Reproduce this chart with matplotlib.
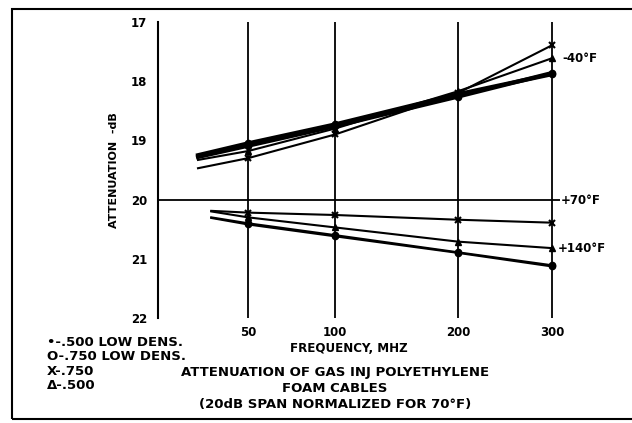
import numpy as np
import matplotlib
matplotlib.use("Agg")
import matplotlib.pyplot as plt
from matplotlib.patches import Rectangle

plt.rcParams['font.family'] = ['DejaVu Sans']
plt.rcParams['font.weight'] = 'bold'

# frequencies (MHz), first point is where each line starts (no marker)
freq_cold = [29, 50, 100, 200, 300]
freq_hot = [34, 50, 100, 200, 300]
freq_ticks = [50, 100, 200, 300]

# -40 F group (attenuation, dB)
cold_dot = [19.25, 19.05, 18.73, 18.22, 17.88]
cold_o = [19.28, 19.09, 18.76, 18.26, 17.86]
cold_tri = [19.33, 19.18, 18.80, 18.17, 17.61]
cold_x = [19.47, 19.30, 18.90, 18.20, 17.39]

# +140 F group
hot_x = [20.19, 20.22, 20.26, 20.34, 20.39]
hot_tri = [20.20, 20.30, 20.47, 20.71, 20.82]
hot_o = [20.30, 20.40, 20.60, 20.89, 21.11]
hot_dot = [20.31, 20.42, 20.62, 20.90, 21.13]

legend_lines = ["\u2022-.500 LOW DENS.", "O-.750 LOW DENS.", "X-.750", "\u0394-.500"]
title_lines = ["ATTENUATION OF GAS INJ POLYETHYLENE", "FOAM CABLES",
               "(20dB SPAN NORMALIZED FOR 70\u00b0F)"]

W, H = 632, 423
fig = plt.figure(figsize=(W / 100, H / 100), dpi=100)
fig.patch.set_facecolor('white')

def fx(px):
    return px / W

def fy(py):
    return 1 - py / H

ax = fig.add_axes([fx(158), fy(318), fx(560) - fx(158), fy(22) - fy(318)])
ax.set_xscale('function', functions=(lambda v: np.sqrt(np.clip(v, 0, None)), lambda v: v ** 2))
ax.set_xlim(16.3, 309)
ax.set_ylim(22, 17)

for f in freq_ticks:
    ax.axvline(f, color='black', lw=1.3, zorder=1)
ax.axhline(20, color='black', lw=1.3, zorder=1)

mk = dict(markevery=slice(1, None), color='black')
ax.plot(freq_cold, cold_dot, lw=3.0, marker='o', ms=4.5, **mk)
ax.plot(freq_cold, cold_o, lw=3.0, marker='o', ms=4.5, **mk)
ax.plot(freq_cold, cold_tri, lw=1.5, marker='^', ms=4.5, **mk)
ax.plot(freq_cold, cold_x, lw=1.5, marker='x', ms=4.5, mew=1.5, **mk)

ax.plot(freq_hot, hot_x, lw=1.5, marker='x', ms=4.5, mew=1.5, **mk)
ax.plot(freq_hot, hot_tri, lw=1.5, marker='^', ms=4.5, **mk)
ax.plot(freq_hot, hot_o, lw=1.5, marker='o', ms=4.5, **mk)
ax.plot(freq_hot, hot_dot, lw=1.5, marker='o', ms=4.5, **mk)

for s in ['top', 'right', 'bottom']:
    ax.spines[s].set_visible(False)
ax.spines['left'].set_linewidth(1.5)
ax.set_yticks([17, 18, 19, 20, 21, 22])
ax.set_yticklabels(['17', '18', '19', '20', '21', '22'], fontsize=8.5, fontweight='bold')
ax.tick_params(axis='y', length=0, pad=8)
ax.set_xticks(freq_ticks)
ax.set_xticklabels([str(f) for f in freq_ticks], fontsize=8.5, fontweight='bold')
ax.tick_params(axis='x', length=0, pad=6)
ax.xaxis.set_minor_locator(plt.NullLocator())
ax.set_ylabel('ATTENUATION  -dB', fontsize=8, fontweight='bold', labelpad=8)
ax.patch.set_alpha(0)

fig.text(fx(349), fy(349), 'FREQUENCY, MHZ', fontsize=8.6, ha='center', va='center')
for i, t in enumerate(legend_lines):
    fig.text(fx(47), fy(342 + 14.5 * i), t, fontsize=9.5, ha='left', va='center')
for i, t in enumerate(title_lines):
    fig.text(fx(335), fy(372 + 16 * i), t, fontsize=9.5, ha='center', va='center')

fig.text(fx(562), fy(58), '-40\u00b0F', fontsize=8.5, ha='left', va='center')
fig.text(fx(561), fy(200), '+70\u00b0F', fontsize=8.5, ha='left', va='center')
fig.text(fx(558), fy(248), '+140\u00b0F', fontsize=8.5, ha='left', va='center')

fig.patches.append(Rectangle((fx(12), fy(419)), 1.2, fy(9) - fy(419), transform=fig.transFigure,
                             fill=False, edgecolor='black', lw=1.5))

fig.savefig('out.png', dpi=100, facecolor='white')
